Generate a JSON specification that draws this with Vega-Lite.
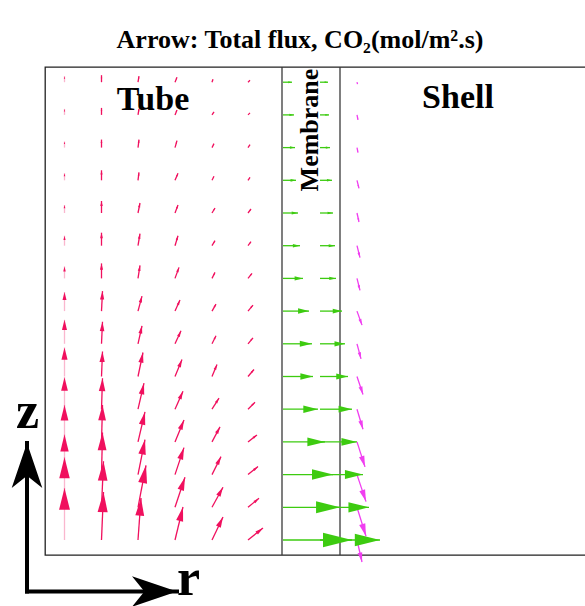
{
  "$schema": "https://vega.github.io/schema/vega-lite/v6.json",
  "width": 542,
  "height": 488,
  "autosize": {"type": "none"},
  "padding": {"left": 45, "top": 67, "right": 0, "bottom": 51},
  "background": "white",
  "config": {"view": {"stroke": "#222", "strokeWidth": 1.3}},
  "title": {"text": "Arrow: Total flux, CO₂(mol/m².s)", "font": "Liberation Serif", "fontSize": 26, "fontWeight": "bold", "color": "black", "anchor": "middle", "dx": -16, "offset": 0, "dy": 8, "baseline": "alphabetic"},
  "datasets": {
    "flux": [
      {"region":"tube","r":1.95,"z":1.5,"u":0,"v":5.2},
      {"region":"tube","r":1.95,"z":4.77,"u":0,"v":5.0},
      {"region":"tube","r":1.95,"z":8.04,"u":0,"v":4.0},
      {"region":"tube","r":1.95,"z":11.31,"u":0,"v":3.7},
      {"region":"tube","r":1.95,"z":14.58,"u":0,"v":3.2},
      {"region":"tube","r":1.95,"z":17.85,"u":0,"v":2.9},
      {"region":"tube","r":1.95,"z":21.12,"u":0,"v":2.4},
      {"region":"tube","r":1.95,"z":24.39,"u":0,"v":1.9},
      {"region":"tube","r":1.95,"z":27.66,"u":0,"v":1.2},
      {"region":"tube","r":1.95,"z":30.93,"u":0,"v":1.0},
      {"region":"tube","r":1.95,"z":34.2,"u":0,"v":0.8},
      {"region":"tube","r":1.95,"z":37.47,"u":0,"v":0.7},
      {"region":"tube","r":1.95,"z":40.74,"u":0,"v":0.6},
      {"region":"tube","r":1.95,"z":44.01,"u":0,"v":0.6},
      {"region":"tube","r":1.95,"z":47.28,"u":0,"v":0.6},
      {"region":"tube","r":5.65,"z":1.5,"u":0.2,"v":4.8},
      {"region":"tube","r":5.65,"z":4.77,"u":0.2,"v":4.6},
      {"region":"tube","r":5.65,"z":8.04,"u":0.1,"v":4.2},
      {"region":"tube","r":5.65,"z":11.31,"u":0.1,"v":3.7},
      {"region":"tube","r":5.65,"z":14.58,"u":0.1,"v":3.1},
      {"region":"tube","r":5.65,"z":17.85,"u":0.1,"v":2.5},
      {"region":"tube","r":5.65,"z":21.12,"u":0.1,"v":2.2},
      {"region":"tube","r":5.65,"z":24.39,"u":0.1,"v":2.0},
      {"region":"tube","r":5.65,"z":27.66,"u":0,"v":1.5},
      {"region":"tube","r":5.65,"z":30.93,"u":0,"v":1.3},
      {"region":"tube","r":5.65,"z":34.2,"u":0,"v":1.2},
      {"region":"tube","r":5.65,"z":37.47,"u":0,"v":1.0},
      {"region":"tube","r":5.65,"z":40.74,"u":0,"v":0.8},
      {"region":"tube","r":5.65,"z":44.01,"u":0,"v":0.7},
      {"region":"tube","r":5.65,"z":47.28,"u":0,"v":0.7},
      {"region":"tube","r":9.3,"z":1.5,"u":0.3,"v":4.2},
      {"region":"tube","r":9.3,"z":4.77,"u":0.8,"v":4.2},
      {"region":"tube","r":9.3,"z":8.04,"u":0.7,"v":3.5},
      {"region":"tube","r":9.3,"z":11.31,"u":0.7,"v":3.0},
      {"region":"tube","r":9.3,"z":14.58,"u":0.6,"v":2.6},
      {"region":"tube","r":9.3,"z":17.85,"u":0.5,"v":2.4},
      {"region":"tube","r":9.3,"z":21.12,"u":0.4,"v":1.8},
      {"region":"tube","r":9.3,"z":24.39,"u":0.4,"v":1.5},
      {"region":"tube","r":9.3,"z":27.66,"u":0.2,"v":1.3},
      {"region":"tube","r":9.3,"z":30.93,"u":0.2,"v":1.2},
      {"region":"tube","r":9.3,"z":34.2,"u":0.2,"v":1.0},
      {"region":"tube","r":9.3,"z":37.47,"u":0.1,"v":0.8},
      {"region":"tube","r":9.3,"z":40.74,"u":0.1,"v":0.8},
      {"region":"tube","r":9.3,"z":44.01,"u":0.1,"v":0.6},
      {"region":"tube","r":9.3,"z":47.28,"u":0.1,"v":0.6},
      {"region":"tube","r":13.0,"z":1.5,"u":0.8,"v":3.3},
      {"region":"tube","r":13.0,"z":4.77,"u":1.0,"v":3.0},
      {"region":"tube","r":13.0,"z":8.04,"u":0.9,"v":2.7},
      {"region":"tube","r":13.0,"z":11.31,"u":0.9,"v":2.2},
      {"region":"tube","r":13.0,"z":14.58,"u":0.8,"v":1.8},
      {"region":"tube","r":13.0,"z":17.85,"u":0.7,"v":1.7},
      {"region":"tube","r":13.0,"z":21.12,"u":0.6,"v":1.3},
      {"region":"tube","r":13.0,"z":24.39,"u":0.5,"v":1.1},
      {"region":"tube","r":13.0,"z":27.66,"u":0.4,"v":1.1},
      {"region":"tube","r":13.0,"z":30.93,"u":0.3,"v":1.0},
      {"region":"tube","r":13.0,"z":34.2,"u":0.3,"v":0.8},
      {"region":"tube","r":13.0,"z":37.47,"u":0.3,"v":0.7},
      {"region":"tube","r":13.0,"z":40.74,"u":0.2,"v":0.7},
      {"region":"tube","r":13.0,"z":44.01,"u":0.2,"v":0.5},
      {"region":"tube","r":13.0,"z":47.28,"u":0.2,"v":0.5},
      {"region":"tube","r":16.7,"z":1.5,"u":1.1,"v":2.3},
      {"region":"tube","r":16.7,"z":4.77,"u":1.1,"v":2.0},
      {"region":"tube","r":16.7,"z":8.04,"u":0.9,"v":1.8},
      {"region":"tube","r":16.7,"z":11.31,"u":0.8,"v":1.5},
      {"region":"tube","r":16.7,"z":14.58,"u":0.7,"v":1.1},
      {"region":"tube","r":16.7,"z":17.85,"u":0.5,"v":1.2},
      {"region":"tube","r":16.7,"z":21.12,"u":0.4,"v":0.8},
      {"region":"tube","r":16.7,"z":24.39,"u":0.4,"v":0.7},
      {"region":"tube","r":16.7,"z":27.66,"u":0.3,"v":0.6},
      {"region":"tube","r":16.7,"z":30.93,"u":0.3,"v":0.5},
      {"region":"tube","r":16.7,"z":34.2,"u":0.3,"v":0.5},
      {"region":"tube","r":16.7,"z":37.47,"u":0.2,"v":0.4},
      {"region":"tube","r":16.7,"z":40.74,"u":0.2,"v":0.4},
      {"region":"tube","r":16.7,"z":44.01,"u":0.2,"v":0.3},
      {"region":"tube","r":16.7,"z":47.28,"u":0.1,"v":0.3},
      {"region":"tube","r":20.3,"z":1.5,"u":1.5,"v":1.2},
      {"region":"tube","r":20.3,"z":4.77,"u":1.1,"v":0.9},
      {"region":"tube","r":20.3,"z":8.04,"u":1.0,"v":0.8},
      {"region":"tube","r":20.3,"z":11.31,"u":0.9,"v":0.7},
      {"region":"tube","r":20.3,"z":14.58,"u":0.7,"v":0.7},
      {"region":"tube","r":20.3,"z":17.85,"u":0.6,"v":0.7},
      {"region":"tube","r":20.3,"z":21.12,"u":0.5,"v":0.6},
      {"region":"tube","r":20.3,"z":24.39,"u":0.5,"v":0.6},
      {"region":"tube","r":20.3,"z":27.66,"u":0.4,"v":0.5},
      {"region":"tube","r":20.3,"z":30.93,"u":0.3,"v":0.4},
      {"region":"tube","r":20.3,"z":34.2,"u":0.3,"v":0.4},
      {"region":"tube","r":20.3,"z":37.47,"u":0.2,"v":0.3},
      {"region":"tube","r":20.3,"z":40.74,"u":0.2,"v":0.3},
      {"region":"tube","r":20.3,"z":44.01,"u":0.2,"v":0.2},
      {"region":"tube","r":20.3,"z":47.28,"u":0.2,"v":0.2},
      {"region":"membrane","r":23.8,"z":1.5,"u":6.9,"v":0},
      {"region":"membrane","r":23.8,"z":4.77,"u":5.7,"v":0},
      {"region":"membrane","r":23.8,"z":8.04,"u":5.0,"v":0},
      {"region":"membrane","r":23.8,"z":11.31,"u":4.2,"v":0},
      {"region":"membrane","r":23.8,"z":14.58,"u":3.5,"v":0},
      {"region":"membrane","r":23.8,"z":17.85,"u":3.0,"v":0},
      {"region":"membrane","r":23.8,"z":21.12,"u":2.9,"v":0},
      {"region":"membrane","r":23.8,"z":24.39,"u":2.6,"v":0},
      {"region":"membrane","r":23.8,"z":27.66,"u":2.0,"v":0},
      {"region":"membrane","r":23.8,"z":30.93,"u":1.7,"v":0},
      {"region":"membrane","r":23.8,"z":34.2,"u":1.5,"v":0},
      {"region":"membrane","r":23.8,"z":37.47,"u":1.3,"v":0},
      {"region":"membrane","r":23.8,"z":40.74,"u":1.2,"v":0},
      {"region":"membrane","r":23.8,"z":44.01,"u":1.1,"v":0},
      {"region":"membrane","r":23.8,"z":47.28,"u":0.9,"v":0},
      {"region":"membrane","r":27.5,"z":1.5,"u":6.0,"v":0},
      {"region":"membrane","r":27.5,"z":4.77,"u":4.9,"v":0},
      {"region":"membrane","r":27.5,"z":8.04,"u":4.3,"v":0},
      {"region":"membrane","r":27.5,"z":11.31,"u":3.7,"v":0},
      {"region":"membrane","r":27.5,"z":14.58,"u":3.2,"v":0},
      {"region":"membrane","r":27.5,"z":17.85,"u":2.8,"v":0},
      {"region":"membrane","r":27.5,"z":21.12,"u":2.5,"v":0},
      {"region":"membrane","r":27.5,"z":24.39,"u":2.2,"v":0},
      {"region":"membrane","r":27.5,"z":27.66,"u":1.6,"v":0},
      {"region":"membrane","r":27.5,"z":30.93,"u":1.5,"v":0},
      {"region":"membrane","r":27.5,"z":34.2,"u":1.3,"v":0},
      {"region":"membrane","r":27.5,"z":37.47,"u":1.2,"v":0},
      {"region":"membrane","r":27.5,"z":40.74,"u":1.0,"v":0},
      {"region":"membrane","r":27.5,"z":44.01,"u":0.9,"v":0},
      {"region":"membrane","r":27.5,"z":47.28,"u":0.8,"v":0},
      {"region":"shell","r":31.2,"z":1.5,"u":0.5,"v":-2.2},
      {"region":"shell","r":31.2,"z":4.77,"u":0.9,"v":-2.9},
      {"region":"shell","r":31.2,"z":8.04,"u":0.9,"v":-2.7},
      {"region":"shell","r":31.2,"z":11.31,"u":0.8,"v":-2.5},
      {"region":"shell","r":31.2,"z":14.58,"u":0.6,"v":-2.0},
      {"region":"shell","r":31.2,"z":17.85,"u":0.6,"v":-1.8},
      {"region":"shell","r":31.2,"z":21.12,"u":0.4,"v":-1.5},
      {"region":"shell","r":31.2,"z":24.39,"u":0.5,"v":-1.4},
      {"region":"shell","r":31.2,"z":27.66,"u":0.3,"v":-1.2},
      {"region":"shell","r":31.2,"z":30.93,"u":0.3,"v":-1.2},
      {"region":"shell","r":31.2,"z":34.2,"u":0.2,"v":-0.9},
      {"region":"shell","r":31.2,"z":37.47,"u":0.2,"v":-0.8},
      {"region":"shell","r":31.2,"z":40.74,"u":0.1,"v":-0.5},
      {"region":"shell","r":31.2,"z":44.01,"u":0.1,"v":-0.5},
      {"region":"shell","r":31.2,"z":47.28,"u":0.05,"v":-0.2}
    ],
    "boundaries": [{"r": 23.7}, {"r": 29.5}],
    "regionLabels": [
      {"label": "Tube", "r": 10.8, "z": 44.5},
      {"label": "Shell", "r": 41.3, "z": 44.7}
    ],
    "membraneLabel": [{"label": "Membrane", "r": 27.3, "z": 42.5}],
    "zLabel": [{"label": "z", "r": -1.75, "z": 12.7}],
    "rLabel": [{"label": "r", "r": 14.35, "z": -5.05}],
    "axisArrows": [
      {"r": -1.8, "z": -3.65, "u": 0, "v": 14.85},
      {"r": -1.8, "z": -3.65, "u": 15.0, "v": 0}
    ]
  },
  "encoding": {
    "x": {"field": "r", "type": "quantitative", "scale": {"domain": [0, 54.2]}, "axis": null},
    "y": {"field": "z", "type": "quantitative", "scale": {"domain": [0, 48.8]}, "axis": null}
  },
  "layer": [
    {
      "data": {"name": "boundaries"},
      "mark": {"type": "rule", "color": "#3a3a3a", "strokeWidth": 1.3},
      "encoding": {"y": null}
    },
    {
      "data": {"name": "flux"},
      "transform": [
        {"calculate": "datum.r + datum.u", "as": "r2"},
        {"calculate": "datum.z + datum.v", "as": "z2"},
        {"calculate": "sqrt(datum.u * datum.u + datum.v * datum.v)", "as": "len"},
        {"calculate": "atan2(datum.u, datum.v) * 180 / PI", "as": "ang"}
      ],
      "layer": [
        {
          "mark": {"type": "rule", "strokeWidth": 1.3},
          "encoding": {
            "x2": {"field": "r2"},
            "y2": {"field": "z2"},
            "color": {"field": "region", "type": "nominal", "scale": {"domain": ["tube", "membrane", "shell"], "range": ["#f0105e", "#3dcb10", "#f03ef0"]}, "legend": null},
            "strokeOpacity": {"condition": {"test": "datum.r < 3", "value": 0.3}, "value": 1}
          }
        },
        {
          "mark": {"type": "point", "shape": "M0,0L0.5,2L-0.5,2Z", "filled": true, "opacity": 1},
          "encoding": {
            "x": {"field": "r2", "type": "quantitative"},
            "y": {"field": "z2", "type": "quantitative"},
            "angle": {"field": "ang", "type": "quantitative", "scale": null},
            "size": {"field": "len", "type": "quantitative", "scale": {"type": "pow", "exponent": 2, "domain": [0, 10], "range": [0, 1764]}, "legend": null},
            "color": {"field": "region", "type": "nominal", "legend": null}
          }
        }
      ]
    },
    {
      "data": {"name": "regionLabels"},
      "mark": {"type": "text", "font": "Liberation Serif", "fontWeight": "bold", "fontSize": 34, "color": "black", "align": "center", "baseline": "alphabetic"},
      "encoding": {"text": {"field": "label"}}
    },
    {
      "data": {"name": "membraneLabel"},
      "mark": {"type": "text", "font": "Liberation Serif", "fontWeight": "bold", "fontSize": 26, "color": "black", "align": "center", "baseline": "alphabetic", "angle": 270},
      "encoding": {"text": {"field": "label"}}
    },
    {
      "data": {"name": "zLabel"},
      "mark": {"type": "text", "font": "Liberation Serif", "fontWeight": "bold", "fontSize": 52, "color": "black", "align": "center", "baseline": "alphabetic"},
      "encoding": {"text": {"field": "label"}}
    },
    {
      "data": {"name": "rLabel"},
      "mark": {"type": "text", "font": "Liberation Serif", "fontWeight": "bold", "fontSize": 52, "color": "black", "align": "center", "baseline": "bottom"},
      "encoding": {"text": {"field": "label"}}
    },
    {
      "data": {"name": "axisArrows"},
      "transform": [
        {"calculate": "datum.r + datum.u", "as": "r2"},
        {"calculate": "datum.z + datum.v", "as": "z2"},
        {"calculate": "atan2(datum.u, datum.v) * 180 / PI", "as": "ang"}
      ],
      "layer": [
        {
          "mark": {"type": "rule", "color": "black", "strokeWidth": 4, "strokeCap": "square"},
          "encoding": {"x2": {"field": "r2"}, "y2": {"field": "z2"}}
        },
        {
          "mark": {"type": "point", "shape": "M0,0L0.68,2L0,1.45L-0.68,2Z", "filled": true, "opacity": 1, "color": "black", "size": 2025},
          "encoding": {
            "x": {"field": "r2", "type": "quantitative"},
            "y": {"field": "z2", "type": "quantitative"},
            "angle": {"field": "ang", "type": "quantitative", "scale": null}
          }
        }
      ]
    }
  ]
}
